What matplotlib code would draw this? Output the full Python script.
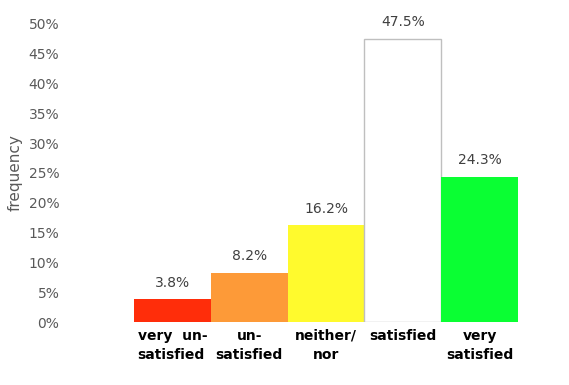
import matplotlib
matplotlib.use("Agg")
import matplotlib.pyplot as plt
from matplotlib.ticker import PercentFormatter

categories = ["very  un-\nsatisfied", "un-\nsatisfied", "neither/\nnor", "satisfied", "very\nsatisfied"]
values = [0.038, 0.082, 0.162, 0.475, 0.243]
value_labels = ["3.8%", "8.2%", "16.2%", "47.5%", "24.3%"]
colors = ["#FF2D0A", "#FD9A38", "#FFFA2D", "#FFFFFF", "#0AFF33"]
edgecolors = ["none", "none", "none", "#BFBFBF", "none"]
yticks = [0, 0.05, 0.10, 0.15, 0.20, 0.25, 0.30, 0.35, 0.40, 0.45, 0.50]

fig = plt.figure(figsize=(5.69, 3.85), dpi=100)
ax = fig.add_axes([0.1142, 0.1636, 0.7962, 0.7741])

x = list(range(len(categories)))
ax.bar(x, values, width=1.0, color=colors, edgecolor=edgecolors, linewidth=1.0)

for xi, v, lab in zip(x, values, value_labels):
    ax.annotate(lab, (xi, v), xytext=(0, 7), textcoords="offset points",
                ha="center", va="bottom", fontsize=10, color="#404040")

ax.set_xlim(-1.4, 4.5)
ax.set_ylim(0, 0.5)
ax.set_yticks(yticks)
ax.yaxis.set_major_formatter(PercentFormatter(1.0, decimals=0))
ax.set_xticks(x)
ax.set_xticklabels(categories, fontsize=10, fontweight="bold", color="black", linespacing=1.45)
ax.get_xticklabels()[0].set_multialignment("left")
ax.tick_params(axis="y", length=0, pad=4, labelsize=10, labelcolor="#595959")
ax.tick_params(axis="x", length=0, pad=5)
for s in ax.spines.values():
    s.set_visible(False)

fig.text(0.026, 0.553, "frequency", rotation=90, ha="center", va="center",
         fontsize=11, color="#595959")

fig.savefig("out.png", dpi=100)
